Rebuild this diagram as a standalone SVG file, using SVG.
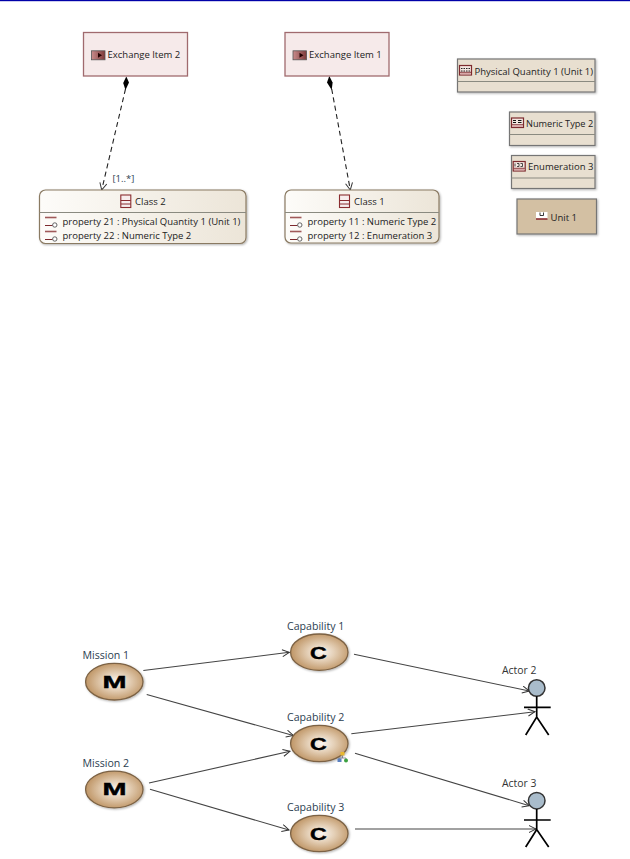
<svg xmlns="http://www.w3.org/2000/svg" width="630" height="859" viewBox="0 0 630 859">
<style>
text{font-family:"Open Sans","Noto Sans","Liberation Sans",sans-serif;font-size:9.5px;fill:#222}
.lb{fill:#2c3e50;font-size:10.6px}
.ac-l{font-size:10.4px;fill:#333}
.mul{fill:#2c3e50;font-size:9.5px}
.ei{fill:#f6eaea;stroke:#a06a6e;stroke-width:1.3}
.cl{fill:url(#cg);stroke:#8a7a62;stroke-width:1.2;filter:url(#sh)}
.dt{fill:#e8dfd0;stroke:#757575;stroke-width:1.2;filter:url(#sh)}
.dv{stroke:#8a8a80;stroke-width:1.1;fill:none}
.un{fill:#d3c0a3;stroke:#757575;stroke-width:1.2;filter:url(#sh)}
.el{fill:url(#rg);stroke:#7c6244;stroke-width:1.3;filter:url(#sh)}
.big{font-family:"Liberation Sans",sans-serif;font-weight:bold;font-size:16px;fill:#000;stroke:#000;stroke-width:0.4;text-anchor:middle}
.ln{fill:none;stroke:#444;stroke-width:1.1;marker-end:url(#op)}
.da{fill:none;stroke:#222;stroke-width:1.1;stroke-dasharray:5 3.5;marker-end:url(#op)}
.ac{fill:none;stroke:#000;stroke-width:1.7}
.hd{fill:#a9bccb;stroke:#333;stroke-width:1.5}
</style>
<defs>
<marker id="op" markerWidth="9" markerHeight="9" refX="7.500" refY="4" orient="auto" markerUnits="userSpaceOnUse"><path d="M0.500 0.500L7.500 4L0.500 7.500" fill="none" stroke="#333" stroke-width="1"/></marker>
<linearGradient id="cg" x1="0" y1="0" x2="1" y2="0"><stop offset="0" stop-color="#fdfcf9"/><stop offset="1" stop-color="#ece5d8"/></linearGradient>
<radialGradient id="rg" cx="0.53" cy="0.5" r="0.52"><stop offset="0" stop-color="#fbf7f2"/><stop offset="0.45" stop-color="#e4cfb6"/><stop offset="1" stop-color="#c09768"/></radialGradient>
<linearGradient id="ig" x1="0" y1="0" x2="1" y2="0"><stop offset="0" stop-color="#c98c8c"/><stop offset="1" stop-color="#7d3a3a"/></linearGradient>
<filter id="sh" x="-10%" y="-10%" width="125%" height="130%"><feDropShadow dx="1" dy="1" stdDeviation="0.9" flood-color="#000" flood-opacity="0.3"/></filter>
<g id="prop"><path d="M0 -0.500H11.500" stroke="#a05a5a" stroke-width="1.600" fill="none"/><path d="M0 7.500H7.500" stroke="#7d2a2e" stroke-width="1" fill="none"/><circle cx="9.800" cy="7" r="2.200" fill="#fff" stroke="#555" stroke-width="0.900"/></g>
<g id="cico"><rect x="0" y="0" width="10" height="12.500" fill="#f7eded" stroke="#8a2c30" stroke-width="1.100"/><path d="M0 5.500H10M0 9H10" stroke="#8a2c30" stroke-width="1"/></g>
<g id="eico"><rect x="0" y="0" width="13.500" height="9" fill="url(#ig)" stroke="#555" stroke-width="0.800"/><path d="M6.500 2L10.500 4.500L6.500 7Z" fill="#200"/></g>
<g id="tico"><rect x="0" y="0" width="12" height="9.500" fill="#f3e6e0" stroke="#7d2a2e" stroke-width="1.200"/><path d="M0.500 6.800H11.500" stroke="#7d2a2e" stroke-width="1"/><rect x="0.800" y="7.300" width="10.400" height="1.600" fill="#d8a8a8"/></g>
</defs>
<rect width="630" height="859" fill="#fff"/>
<rect id="topbar" x="0" y="0" width="630" height="1.200" fill="#0000a8"/>

<g id="connectors">
<path class="da" d="M125.500 89L101.700 190"/>
<path d="M126.300 76.500L129 82.500L125.500 90L123.200 83Z" fill="#000"/>
<path class="da" d="M331.700 89L350.300 190"/>
<path d="M329.300 76L332.600 82.500L331.700 90L327 82.500Z" fill="#000"/>
<path class="ln" d="M143.300 670.500L289.300 652.300"/>
<path class="ln" d="M146.700 694.500L293.300 735.500"/>
<path class="ln" d="M149 783L290 751.300"/>
<path class="ln" d="M150 789.300L289 830"/>
<path class="ln" d="M354 654.300L529.300 691"/>
<path class="ln" d="M351.300 733.700L535 711.700"/>
<path class="ln" d="M355 753.300L529.300 805.700"/>
<path class="ln" d="M355 829H536"/>
<text x="112.500" y="181.500" class="mul">[1..*]</text>
</g>

<g id="exchange-item-2"><rect class="ei" x="83.500" y="32.500" width="104" height="43.500"/><use href="#eico" x="91.500" y="50.800"/><text x="107.500" y="58">Exchange Item 2</text></g>
<g id="exchange-item-1"><rect class="ei" x="285" y="32.500" width="104" height="43.500"/><use href="#eico" x="293" y="50.800"/><text x="309" y="58">Exchange Item 1</text></g>

<g id="class-2"><rect class="cl" x="39.500" y="190" width="206.500" height="53.500" rx="6"/><path class="dv" d="M39.500 212.500H246"/><use href="#cico" x="120.800" y="195"/><text x="135" y="205">Class 2</text>
<use href="#prop" x="45" y="218"/><text x="62.500" y="225">property 21 : Physical Quantity 1 (Unit 1)</text>
<use href="#prop" x="45" y="232"/><text x="62.500" y="239">property 22 : Numeric Type 2</text></g>
<g id="class-1"><rect class="cl" x="285" y="190" width="154" height="53" rx="6"/><path class="dv" d="M285 212.500H439"/><use href="#cico" x="339.500" y="195"/><text x="354" y="205">Class 1</text>
<use href="#prop" x="290" y="218"/><text x="307.500" y="225">property 11 : Numeric Type 2</text>
<use href="#prop" x="290" y="232"/><text x="307.500" y="239">property 12 : Enumeration 3</text></g>

<g id="physical-quantity-1"><rect class="dt" x="457.500" y="59" width="137.500" height="33"/><path class="dv" d="M457.500 81.500H595"/><use href="#tico" x="459.500" y="65.500"/><path d="M461 68.500H470M461 71H470" stroke="#222" stroke-width="1" stroke-dasharray="1.500 1"/><text x="474.500" y="74.500">Physical Quantity 1 (Unit 1)</text></g>
<g id="numeric-type-2"><rect class="dt" x="509.500" y="112" width="85.500" height="33.500"/><path class="dv" d="M509.500 134.500H595"/><use href="#tico" x="511.500" y="118"/><path d="M513 120.500H516M518 120.500H521.500M513 122.500H516M518 122.500H521.500" stroke="#111" stroke-width="1.200"/><text x="526" y="126.500" style="font-size:9.2px">Numeric Type 2</text></g>
<g id="enumeration-3"><rect class="dt" x="511.500" y="155.500" width="83.500" height="33"/><path class="dv" d="M511.500 178H595"/><use href="#tico" x="513.200" y="161.500"/><path d="M515 163.500V166.500M517 163.500H519V166.500H517M520.500 163.500H522.500V166.500H520.500" fill="none" stroke="#222" stroke-width="0.800"/><text x="528" y="170">Enumeration 3</text></g>
<g id="unit-1"><rect class="un" x="517" y="199" width="79.500" height="35"/><rect x="536" y="212" width="11.500" height="7" fill="#fff"/><path d="M536 219H547.500" stroke="#8a2c30" stroke-width="1.600"/><path d="M540 212.500V215.500H543.500V212.500" fill="none" stroke="#222" stroke-width="0.900"/><text x="550.500" y="221">Unit 1</text></g>

<g id="mission-1"><ellipse class="el" cx="114.300" cy="681.700" rx="28.700" ry="18.300"/><text class="big" transform="translate(114.500 687.500) scale(1.800 1)">M</text><text class="lb" x="82.500" y="659">Mission 1</text></g>
<g id="mission-2"><ellipse class="el" cx="114.300" cy="789.500" rx="28.700" ry="18.300"/><text class="big" transform="translate(114.500 795.300) scale(1.800 1)">M</text><text class="lb" x="82.500" y="767">Mission 2</text></g>
<g id="capability-1"><ellipse class="el" cx="319.300" cy="652.200" rx="28.700" ry="18.200"/><text class="big" transform="translate(318.500 658.500) scale(1.450 1.050)">C</text><text class="lb" x="287" y="630">Capability 1</text></g>
<g id="capability-2"><ellipse class="el" cx="319.300" cy="743.500" rx="28.700" ry="18.200"/><text class="big" transform="translate(318.500 749.500) scale(1.450 1.050)">C</text><text class="lb" x="287" y="721">Capability 2</text>
<rect x="340.500" y="752" width="4" height="3.500" fill="#e8b830"/><path d="M342.500 755.500V758M339 760V758H346V760" fill="none" stroke="#667" stroke-width="0.700"/><rect x="337.500" y="758.500" width="4" height="3.500" fill="#5a80c0"/><circle cx="346" cy="760.500" r="2" fill="#3aa040"/></g>
<g id="capability-3"><ellipse class="el" cx="319.300" cy="833.500" rx="28.700" ry="18.200"/><text class="big" transform="translate(318.500 839.500) scale(1.450 1.050)">C</text><text class="lb" x="287" y="811">Capability 3</text></g>

<g id="actor-2"><circle class="hd" cx="536.700" cy="688" r="8.300"/><path class="ac" d="M536.700 696.300V717M524 707.300H550.700M525.700 735L536.700 717L548.700 735"/><text class="ac-l" x="502" y="674">Actor 2</text></g>
<g id="actor-3"><circle class="hd" cx="536.700" cy="800.700" r="8.300"/><path class="ac" d="M536.700 809V829.500M524 820H550.700M525.700 847L536.700 829.500L548.700 847"/><text class="ac-l" x="502" y="787">Actor 3</text></g>
</svg>
